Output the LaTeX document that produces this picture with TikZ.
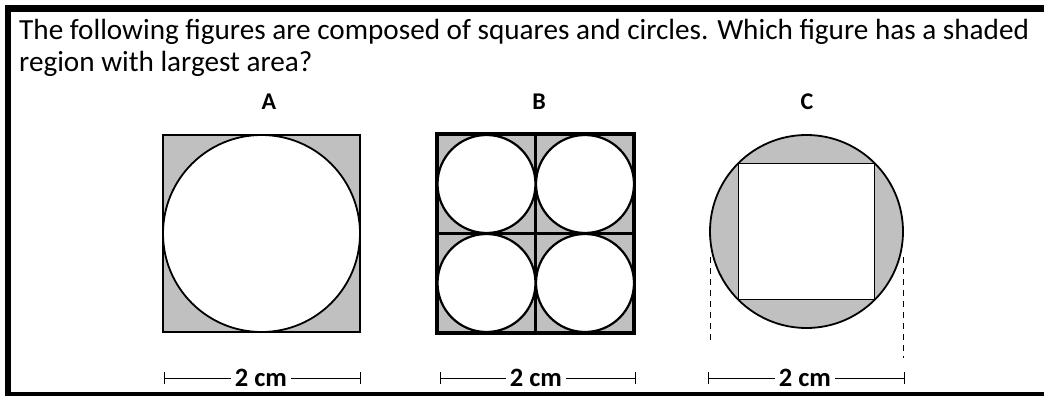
\documentclass[tikz,border=0pt]{standalone}
\usepackage{fontspec}
\setmainfont{Carlito}
\usetikzlibrary{positioning,arrows.meta}
\definecolor{shadegray}{RGB}{192,192,192}

\begin{document}
\begin{tikzpicture}[x=1pt, y=-1pt,
  txt/.style={anchor=base west, inner sep=0pt, font=\fontsize{29.2}{35}\selectfont},
  lbl/.style={anchor=base, inner sep=0pt, font=\fontsize{24}{28}\selectfont\bfseries},
  dimlbl/.style={fill=white, inner sep=3.5pt, font=\fontsize{26.5}{30}\selectfont\bfseries},
  dimline/.style={line width=1pt, {Bar[width=12pt]}-},
  fig/.style={line width=1.8pt, fill=shadegray},
  hole/.style={line width=1.8pt, fill=white}]
\useasboundingbox (0,0) rectangle (1044,396);
% frame
\draw[line width=7pt] (5,8.5) -- (1044,8.5);
\draw[line width=6pt] (8,5) -- (8,396);
\draw[line width=5pt] (5,394) -- (1044,394);
% question
\node[txt] (l1) at (19,40) {The following figures are composed of squares and circles. Which figure has a shaded};
\node[txt] (l2) at (19,72) {region with largest area?};
\node[lbl] (la) at (269,109) {A};
\node[lbl] (lb) at (539,109) {B};
\node[lbl] (lc) at (807,109) {C};
% figure A
\draw[fig] (163,135) rectangle (360,332);
\draw[hole] (261.5,233.5) circle (98.5);
% figure B
\draw[fig, line width=3.5pt] (437,134) rectangle (634,333);
\draw[line width=3pt] (535.5,134) -- (535.5,333);
\draw[line width=3pt] (437,233.5) -- (634,233.5);
\foreach \cx in {486.5,585}
  \foreach \cy in {184,283}
    \draw[hole, line width=2.2pt] (\cx,\cy) circle (49);
% figure C
\draw[fig] (806.5,231.5) circle (96.5);
\draw[hole] (738.5,163.5) rectangle (874.5,299.5);
\coordinate (cdl1) at (710,257);
\coordinate (cdl2) at (710,341);
\coordinate (cdr1) at (903,257);
\coordinate (cdr2) at (903,358);
\draw[line width=1pt, dash pattern=on 6pt off 5pt] (cdl1) -- (cdl2);
\draw[line width=1pt, dash pattern=on 6pt off 5pt] (cdr1) -- (cdr2);
% dimensions
\coordinate (da1) at (164,378);
\coordinate (da2) at (361,378);
\node[dimlbl] (dta) at (261,378) {2 cm};
\draw[dimline] (da1) -- (dta.west);
\draw[dimline] (da2) -- (dta.east);
\coordinate (db1) at (440,378);
\coordinate (db2) at (636,378);
\node[dimlbl] (dtb) at (536,378) {2 cm};
\draw[dimline] (db1) -- (dtb.west);
\draw[dimline] (db2) -- (dtb.east);
\coordinate (dc1) at (708,378);
\coordinate (dc2) at (905,378);
\node[dimlbl] (dtc) at (805,378) {2 cm};
\draw[dimline] (dc1) -- (dtc.west);
\draw[dimline] (dc2) -- (dtc.east);
\end{tikzpicture}
\end{document}
